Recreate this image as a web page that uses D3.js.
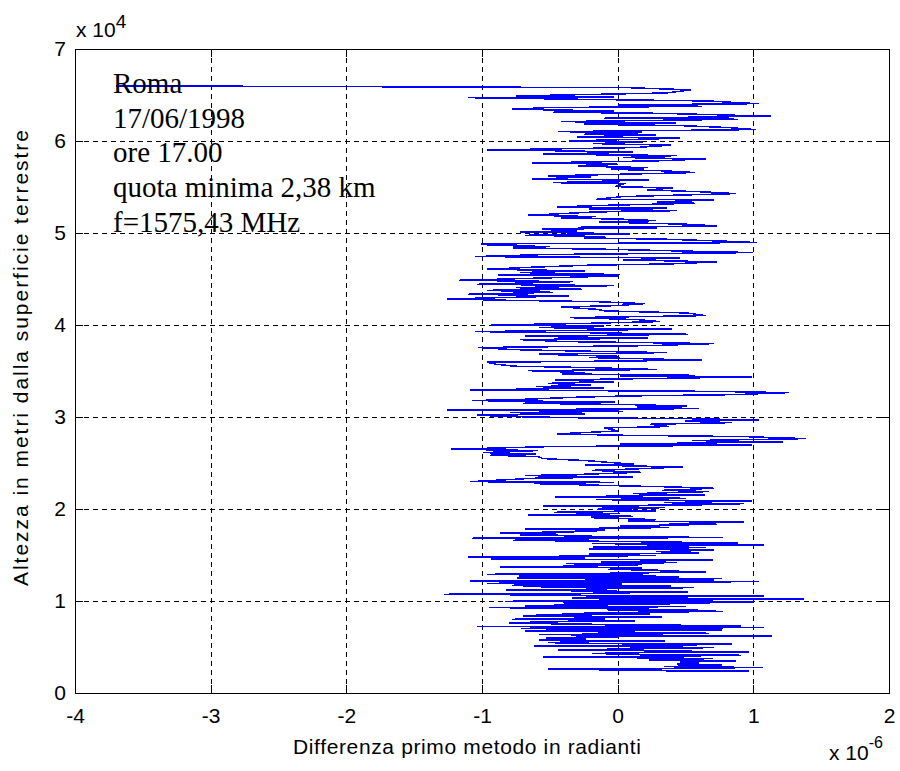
<!DOCTYPE html>
<html>
<head>
<meta charset="utf-8">
<script src="https://cdn.jsdelivr.net/npm/d3@7"></script>
<style>
  html, body { margin: 0; padding: 0; background: #fff; }
  svg { display: block; }
</style>
</head>
<body>
<svg id="chart" width="900" height="771"></svg>
<script>
// Difference profile (first method) versus altitude, Roma 17/06/1998
// Altitude of each sample, metres
const altitudeM = [
  66000, 65800, 65560, 65220, 64900, 64790, 64710, 64530, 64350, 64140,
  64060, 63920, 63770, 63630, 63450, 63270, 63120, 63010, 62830, 62690,
  62470, 62360, 62110, 61960, 61820, 61670, 61460, 61240, 61020, 60910,
  60730, 60660, 60440, 60300, 60010, 59860, 59720, 59540, 59280, 59030,
  58920, 58780, 58560, 58420, 58200, 58050, 57840, 57620, 57470, 57260,
  57110, 56930, 56750, 56570, 56210, 56100, 55850, 55770,
  55470, 55400, 55040, 54900, 54680, 54460, 54280, 54100, 53950, 53660,
  53590, 53370, 53230, 53010, 52830, 52720, 52580, 52430, 52290, 52040,
  51930, 51780, 51640, 51490, 51350, 51200, 50950, 50770, 50620, 50550,
  50410, 50190, 50120, 49900, 49750, 49610, 49470, 49320, 49100, 48960,
  48810, 48670, 48520, 48380, 48230, 48020, 47870, 47660, 47440, 47290,
  47080, 46860, 46640, 46500, 46280, 46060, 45880, 45700, 45480,
  45440, 45330, 44860, 44710, 44420, 44280, 44060, 43880, 43770, 43550,
  43340, 43160, 42830, 42690, 42540, 42320, 42110, 41960, 41710, 41530,
  41310, 41020, 40800, 40590, 40370, 40150, 40010, 39900, 39720, 39540,
  39280, 39170, 38990, 38780, 38560, 38410, 38200, 37980, 37760, 37550,
  37330, 37180, 37000, 36820, 36600, 36460, 36310, 36170, 35950, 35740,
  35520, 35370, 35160,
  35040, 34820, 34680, 34530, 34460, 34350, 34030, 33810, 33660, 33450,
  33300, 33160, 32940, 32790, 32650, 32430, 32290, 32140, 31930, 31780,
  31640, 31490, 31350, 31200, 31060, 30910, 30770, 30620, 30480, 30330,
  30190, 30040, 29900, 29830, 29680, 29540, 29390, 29210, 28960, 28810,
  28490, 28310, 28160, 28020, 27870, 27650, 27440, 27290, 27070, 26930,
  26790, 26500, 26350, 26130, 25990, 25840, 25700, 25480, 25260, 25050,
  24870,
  24780, 24570, 24350, 24200, 23990, 23770, 23630, 23480, 23340, 22970,
  22900, 22760, 22540, 22390, 22250, 22030, 21890, 21670, 21530, 21310,
  21160, 21020, 20870, 20690, 20580, 20440, 20330, 20150, 19970, 19790,
  19640, 19500, 19350, 19210, 19060, 18850, 18700, 18560, 18410, 18340,
  18160, 17980, 17830, 17690, 17540, 17400, 17250, 17180, 17040, 16890,
  16820, 16680, 16600, 16460, 16310, 16240, 16100, 15990, 15880, 15810,
  15660, 15520, 15370, 15230, 15080, 14940, 14790, 14650, 14580, 14470,
  14240, 14170, 14060, 13950, 13810, 13700, 13590, 13440, 13300, 13230,
  13150, 13010, 12900, 12790, 12720, 12610, 12500, 12430, 12360, 12290,
  12180, 12110, 12000, 11920, 11820, 11710, 11630, 11560, 11450, 11350,
  11270, 11200, 11090, 10980, 10840, 10730, 10620, 10550, 10440, 10370,
  10300, 10220, 10110, 10040, 9970, 9900, 9820, 9720, 9640, 9530,
  9460, 9390, 9280, 9170, 9100, 9030, 8960, 8880, 8740, 8630,
  8560, 8450, 8380, 8270, 8160, 8010, 7940, 7830, 7720, 7580,
  7470, 7290, 7220, 7110, 7000, 6860, 6750, 6640, 6490, 6350,
  6280, 6200, 6100, 5990, 5840, 5770, 5660, 5550, 5480, 5370,
  5300, 5190, 5120, 5010, 4940, 4830, 4680, 4580, 4470, 4360,
  4290, 4180, 4100, 4030, 3920, 3820, 3740, 3600, 3490, 3380,
  3240, 3130, 3020, 2870, 2770, 2660, 2580, 2500, 2450, 2420,
  2380
];

// Phase difference at each sample, in units of 1e-6 rad
const diffMicroRad = [
  -3.70, 0.07, 0.54, 0.36, -0.75, -0.03, -1.10, -0.26, 0.67, 0.92,
  1.04, 0.00, 0.62, -0.52, -0.78, -0.03, -0.48, 0.30, 0.79, 1.13,
  -0.10, 0.89, -0.42, 0.43, -0.25, 0.47, 0.82, 1.02, -0.44, 0.18,
  -0.25, 0.28, -0.30, 0.46, -0.36, 0.19, -0.18, 0.39, 0.12, -0.96,
  -0.36, 0.11, -0.55, 0.44, 0.04, 0.65, 0.28, -0.63, 0.00, -0.29,
  0.22, -0.05, 0.35, 0.57, -0.51, -0.20, -0.63, 0.23,
  -0.48, 0.06, -0.02, 0.41, 0.22, 0.65, 0.87, 0.40, 0.03, -0.16,
  0.71, 0.29, 0.57, -0.09, -0.45, 0.36, -0.21, 0.44, -0.16, -0.50,
  -0.66, -0.16, -0.42, 0.06, 0.28, -0.14, 0.51, 0.73, -0.29, 0.29,
  -0.56, -0.30, -0.72, 0.09, -0.68, -0.09, -0.25, 0.36, 0.81, 1.03,
  -1.01, -0.93, -0.50, -0.77, -0.07, 0.54, 1.00, -0.53, -1.05, 0.46,
  0.04, 0.73, 0.39, -0.21, -0.63, -0.96, -0.24, -0.72, 0.02,
  -0.88, 0.00, -1.17, -0.33, -1.04, -0.03, -0.75, -0.26, -0.96, -0.48,
  -1.10, -0.36, -1.26, -0.82, -0.16, 0.20, 0.00, -0.42, -0.16, -0.09,
  0.51, 0.65, -0.35, 0.14, 0.31, -0.31, -0.93, -0.10, -0.58, 0.40,
  -1.05, -0.26, 0.52, -0.68, 0.22, -0.72, -0.40, 0.71, 0.25, -1.03,
  -0.78, -0.33, 0.36, -0.58, 0.00, -0.21, 0.25, 0.62, -0.96, -0.90,
  -0.76, -0.21, 0.29,
  -0.66, -0.24, -0.41, 0.57, 0.02, 0.99, -0.46, -0.03, -0.51, -0.20,
  -0.60, -0.10, -1.09, 0.67, 1.26, 0.86, 0.07, -0.32, -0.68, -1.07,
  -0.02, -0.70, 0.07, 0.51, 0.14, 0.60, -1.26, 0.04, -0.79, -0.24,
  -1.04, -0.76, -0.23, 0.47, 1.04, 0.50, 0.84, 0.24, 0.38, -0.10,
  0.00, -0.24, -0.45, 0.01, 0.93, 1.39, 0.55, 1.22, 0.02, 0.99,
  -0.48, -1.23, -0.59, -0.99, -0.60, -0.94, -0.59, -0.55, -0.23, -0.05,
  0.12,
  -0.24, 0.48, 0.12, -0.19, 0.17, -0.26, -0.68, 0.11, -0.62, -1.09,
  -0.03, -0.62, -0.03, 0.42, 0.71, 0.33, 0.67, 0.11, 0.64, -0.46,
  0.50, -0.16, 0.99, 0.34, 0.93, 0.57, -0.55, 0.35, -0.15, 0.28,
  -0.47, 0.02, -0.66, 0.11, -0.20, 0.28, 0.08, 0.93, 0.38, 0.73,
  0.02, 0.38, -0.68, -0.09, -0.26, -0.87, -0.44, -0.72, -0.21, 0.78,
  -1.07, -0.21, -0.77, 0.06, 0.89, -0.19, 1.08, 0.44, -0.18, 0.65,
  -0.21, 0.71, 0.28, 0.60, -0.21, 0.28, -1.10, -0.24, -0.93, 0.70,
  -0.12, 0.44, -0.38, 0.18, -0.20, -0.87, 0.18, -0.07, 0.45, 0.31,
  0.65, -0.08, -0.96, 0.28, -0.73, 0.45, -0.74, 0.77, -0.24, 0.71,
  -1.09, 1.04, -0.15, -0.96, 0.03, -0.78, 0.39, -0.70, 0.56, -0.23,
  -0.08, -0.82, -0.21, 0.52, -0.19, -1.28, -0.24, 1.08, -0.23, 0.52,
  -0.34, 1.37, -0.14, 0.70, -0.83, 1.00, -0.40, 0.68, -0.47, -0.07,
  -0.68, 0.50, -0.95, 0.23, -0.08, 0.59, -0.07, 0.78, 0.06, -0.41,
  0.24, -0.60, -0.70, 0.33, -0.18, -0.78, -0.19, 0.13, -0.60, -0.80,
  -0.18, 0.91, -1.04, 1.08, -0.71, 0.77, -0.68, -0.05, 0.67, -0.58,
  0.30, 1.14, -0.18, -0.53, -0.23, -0.58, 0.35, -0.34, -0.51, -0.23,
  0.84, 0.34, -0.62, 0.22, 0.71, 0.29, -0.44, 0.28, 0.97, 0.04,
  -0.19, 0.29, 0.91, 0.51, -0.55, 0.22, 0.70, 0.23, 0.87, 0.46,
  0.60, 0.44, 0.77, 0.34, 1.07, 0.18, -0.51, 0.33, -0.14, 0.33,
  0.97
];

// Axis ticks
const xTicks = [-4, -3, -2, -1, 0, 1, 2];
const xTickLabels = ["-4", "-3", "-2", "-1", "0", "1", "2"];
const yTicks = [0, 10000, 20000, 30000, 40000, 50000, 60000, 70000];
const yTickLabels = ["0", "1", "2", "3", "4", "5", "6", "7"];

// Annotation lines
const noteLines = ["Roma", "17/06/1998", "ore 17.00", "quota minima 2,38 km", "f=1575,43 MHz"];

const xLabel = "Differenza primo metodo in radianti";
const yLabel = "Altezza in metri dalla superficie terrestre";

// ---- layout ----
const plotLeft = 75, plotRight = 889, plotTop = 49, plotBottom = 693;
const tickLen = 8;
const sansFont = "'Liberation Sans', Arial, Helvetica, sans-serif";
const serifFont = "'Liberation Serif', 'Times New Roman', Times, serif";

const svg = d3.select("#chart");

const xScale = d3.scaleLinear().domain([-4, 2]).range([plotLeft, plotRight]);
const yScale = d3.scaleLinear().domain([0, 70000]).range([plotBottom, plotTop]);

svg.append("rect").attr("x", 0).attr("y", 0).attr("width", 900).attr("height", 771).attr("fill", "#fff");

// dashed grid
const gridX = svg.append("g")
  .attr("transform", `translate(0,${plotBottom})`)
  .call(d3.axisBottom(xScale).tickValues(xTicks).tickSize(-(plotBottom - plotTop)).tickFormat(""));
const gridY = svg.append("g")
  .attr("transform", `translate(${plotLeft},0)`)
  .call(d3.axisLeft(yScale).tickValues(yTicks).tickSize(-(plotRight - plotLeft)).tickFormat(""));
[gridX, gridY].forEach(g => {
  g.select(".domain").remove();
  g.selectAll("line")
    .attr("stroke", "#000").attr("stroke-width", 1)
    .attr("stroke-dasharray", "5,4")
    .attr("shape-rendering", "crispEdges");
});

// data line (aliased, like a raster plot)
const pts = altitudeM.map((a, i) => [diffMicroRad[i], a]);
const line = d3.line().x(d => xScale(d[0])).y(d => yScale(d[1]));
svg.append("path")
  .datum(pts)
  .attr("d", line)
  .attr("fill", "none")
  .attr("stroke", "#0000ff")
  .attr("stroke-width", 1.5)
  .attr("stroke-linejoin", "miter")
  .attr("shape-rendering", "crispEdges");

// axes with inward ticks on all four sides
function styleAxis(g) {
  g.select(".domain").remove();
  g.selectAll("line").attr("stroke", "#000").attr("stroke-width", 1).attr("shape-rendering", "crispEdges");
  g.selectAll("text")
    .attr("fill", "#000")
    .style("font-family", sansFont)
    .style("font-size", "21px");
}

const axB = svg.append("g")
  .attr("transform", `translate(0,${plotBottom})`)
  .call(d3.axisBottom(xScale).tickValues(xTicks).tickSize(-tickLen).tickPadding(15)
    .tickFormat((d, i) => xTickLabels[i]));
styleAxis(axB);

const axL = svg.append("g")
  .attr("transform", `translate(${plotLeft},0)`)
  .call(d3.axisLeft(yScale).tickValues(yTicks).tickSize(-tickLen).tickPadding(9)
    .tickFormat((d, i) => yTickLabels[i]));
styleAxis(axL);

const axT = svg.append("g")
  .attr("transform", `translate(0,${plotTop})`)
  .call(d3.axisTop(xScale).tickValues(xTicks).tickSize(-tickLen).tickFormat(""));
styleAxis(axT);

const axR = svg.append("g")
  .attr("transform", `translate(${plotRight},0)`)
  .call(d3.axisRight(yScale).tickValues(yTicks).tickSize(-tickLen).tickFormat(""));
styleAxis(axR);

// plot box
svg.append("rect")
  .attr("x", plotLeft).attr("y", plotTop)
  .attr("width", plotRight - plotLeft).attr("height", plotBottom - plotTop)
  .attr("fill", "none").attr("stroke", "#000").attr("stroke-width", 1)
  .attr("shape-rendering", "crispEdges");

// axis titles
svg.append("text")
  .attr("x", 293).attr("y", 754)
  .attr("textLength", 348).attr("lengthAdjust", "spacing")
  .style("font-family", sansFont).style("font-size", "21px")
  .attr("fill", "#000")
  .text(xLabel);

svg.append("text")
  .attr("transform", "translate(28,586) rotate(-90)")
  .attr("textLength", 456).attr("lengthAdjust", "spacing")
  .style("font-family", sansFont).style("font-size", "21px")
  .attr("fill", "#000")
  .text(yLabel);

// exponent labels
const expTop = svg.append("text")
  .attr("x", 76).attr("y", 37)
  .style("font-family", sansFont).style("font-size", "21px").attr("fill", "#000");
expTop.append("tspan").text("x 10");
expTop.append("tspan").attr("dy", -9).style("font-size", "19px").text("4");

const expBot = svg.append("text")
  .attr("x", 829).attr("y", 760)
  .style("font-family", sansFont).style("font-size", "21px").attr("fill", "#000");
expBot.append("tspan").text("x 10");
expBot.append("tspan").attr("dy", -12).style("font-size", "16px").text("-6");

// annotation
const note = svg.append("g");
note.selectAll("text")
  .data(noteLines)
  .join("text")
  .attr("x", 113)
  .attr("y", (d, i) => 93 + i * 34.7)
  .style("font-family", serifFont)
  .style("font-size", "29px")
  .attr("fill", "#000")
  .text(d => d);
</script>
</body>
</html>
